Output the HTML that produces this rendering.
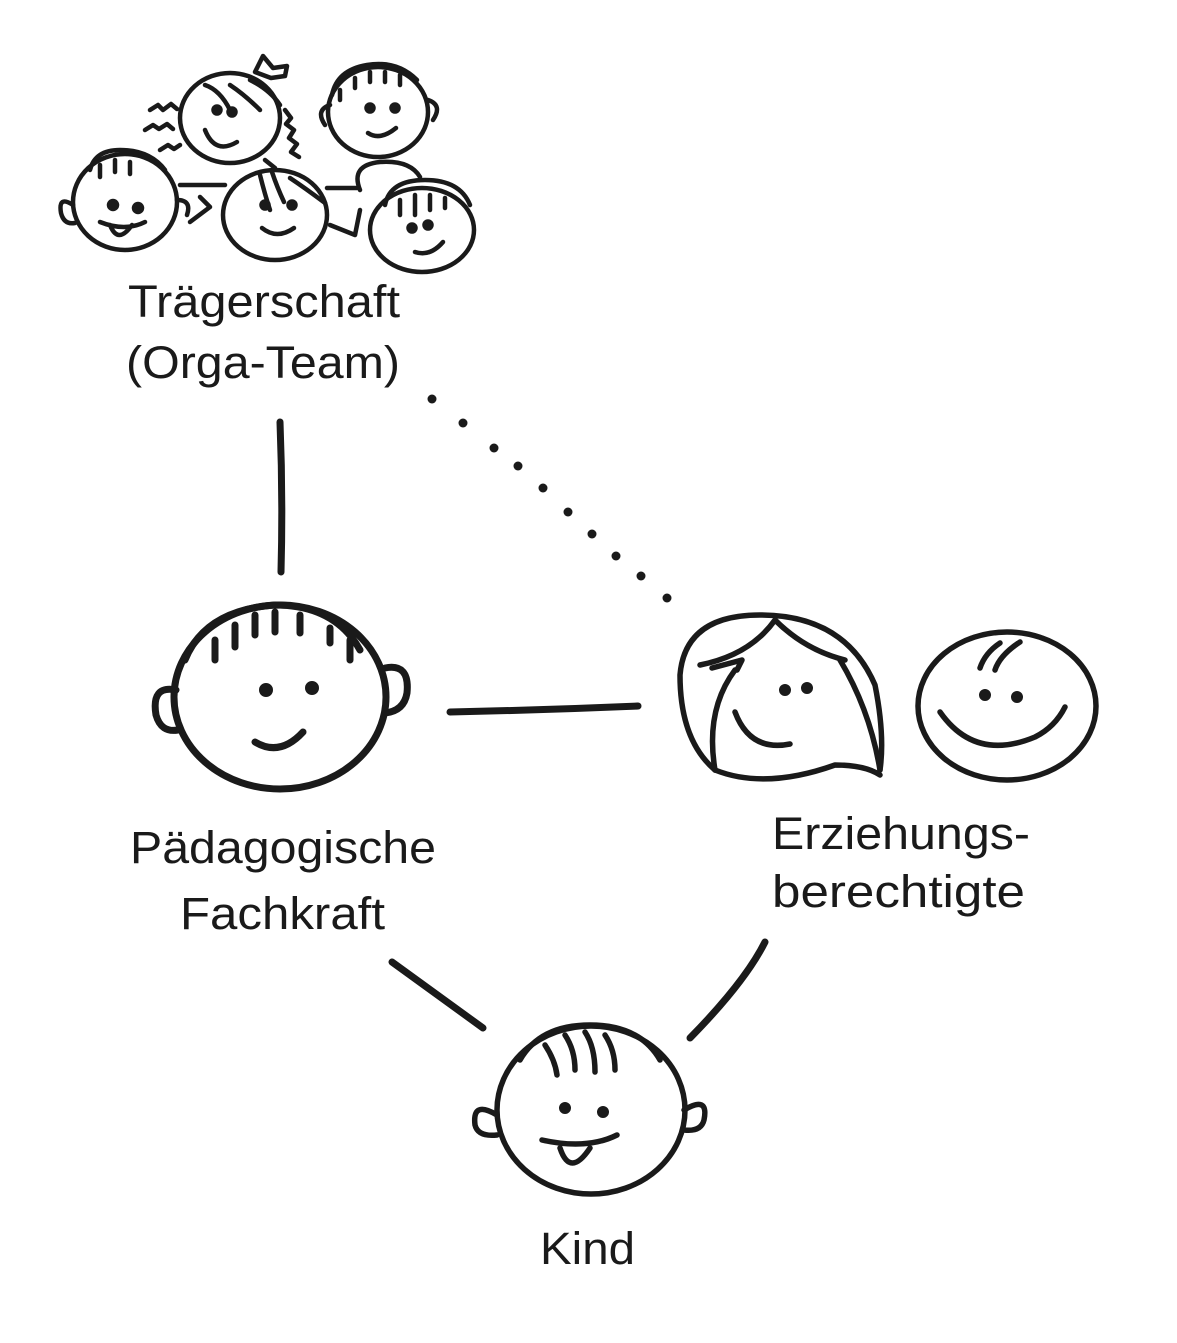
<!DOCTYPE html>
<html><head><meta charset="utf-8"><style>
html,body{margin:0;padding:0;background:#fff;}
svg{display:block}
text{font-family:"Liberation Sans",sans-serif;font-size:45px;fill:#1a1a1a}
</style></head><body>
<svg width="1177" height="1343" viewBox="0 0 1177 1343" xmlns="http://www.w3.org/2000/svg">
<g fill="none" stroke="#1a1a1a" stroke-linecap="round" stroke-linejoin="round">
<!-- top group -->
<g stroke-width="4.5">
<ellipse cx="230" cy="118" rx="50" ry="45"/>
<path d="M205 85 q15 5 25 25 M230 85 q15 10 30 25 M250 80 q20 10 30 25"/>
<path d="M150 110 l8 -5 l5 5 l8 -6 l6 5 M145 130 l8 -5 l6 4 l8 -5 l6 5 M160 150 l8 -5 l6 4 l6 -4"/>
<path d="M285 110 l6 8 l-5 6 l8 6 l-5 8 l8 6 l-6 8 l8 5 M265 160 l10 8"/>
<path d="M255 72 l8 -16 l10 12 l14 -2 l-2 10 l-14 2 z"/>
<circle cx="217" cy="110" r="3.5" fill="#1a1a1a"/><circle cx="232" cy="112" r="3.5" fill="#1a1a1a"/>
<path d="M205 130 q10 25 32 12"/>
<ellipse cx="378" cy="112" rx="50" ry="45"/>
<path d="M332 95 q5 -25 35 -30 q30 -5 50 15 M340 90 v10 M355 78 v10 M370 72 v10 M385 72 v10 M400 75 v10"/>
<path d="M330 105 q-15 5 -5 20 M428 100 q15 5 5 20"/>
<circle cx="370" cy="108" r="3.5" fill="#1a1a1a"/><circle cx="395" cy="108" r="3.5" fill="#1a1a1a"/>
<path d="M368 133 q12 8 28 -5"/>
<ellipse cx="125" cy="202" rx="52" ry="48"/>
<path d="M90 170 q5 -20 30 -20 q30 0 45 20 M100 165 v12 M115 160 v12 M130 162 v12"/>
<path d="M73 205 q-15 -10 -12 8 q3 12 14 10 M177 200 q15 0 10 15"/>
<circle cx="113" cy="205" r="4" fill="#1a1a1a"/><circle cx="138" cy="208" r="4" fill="#1a1a1a"/>
<path d="M100 222 q25 10 45 0 M110 225 q8 20 22 0"/>
<path d="M180 185 h45 M190 222 l20 -15 l-10 -10"/>
<ellipse cx="275" cy="215" rx="52" ry="45"/>
<path d="M260 175 q5 20 10 35 M272 172 q5 15 12 30 M290 178 q15 10 35 25"/>
<circle cx="265" cy="205" r="3.5" fill="#1a1a1a"/><circle cx="292" cy="205" r="3.5" fill="#1a1a1a"/>
<path d="M262 228 q15 12 32 0"/>
<path d="M327 188 h30 M330 225 l25 10 l5 -25"/>
<path d="M360 190 q-10 -25 20 -28 q30 -2 40 15"/>
<ellipse cx="422" cy="230" rx="52" ry="42"/>
<path d="M385 205 q5 -25 40 -25 q35 0 45 25 M400 200 v15 M415 195 v20 M430 195 v15 M445 198 v10"/>
<circle cx="412" cy="228" r="3.5" fill="#1a1a1a"/><circle cx="428" cy="225" r="3.5" fill="#1a1a1a"/>
<path d="M415 252 q15 5 28 -10"/>
</g>
<!-- connectors -->
<g stroke-width="7">
<path d="M280 422 q3 75 1 150"/>
<path d="M450 712 q95 -2 188 -6"/>
<path d="M392 962 L483 1028"/>
<path d="M765 942 q-20 40 -75 96"/>
</g>
<g fill="#1a1a1a" stroke="none">
<circle cx="432" cy="399" r="4.5"/><circle cx="463" cy="423" r="4.5"/><circle cx="494" cy="448" r="4.5"/><circle cx="518" cy="466" r="4.5"/><circle cx="543" cy="488" r="4.5"/><circle cx="568" cy="512" r="4.5"/><circle cx="592" cy="534" r="4.5"/><circle cx="616" cy="556" r="4.5"/><circle cx="641" cy="576" r="4.5"/><circle cx="667" cy="598" r="4.5"/>
</g>
<!-- Fachkraft face -->
<g stroke-width="7">
<ellipse cx="280" cy="697" rx="106" ry="92"/>
<path d="M185 660 q20 -50 90 -55 q60 0 85 45 M215 640 v20 M235 625 v22 M255 615 v20 M275 612 v20 M300 615 v18 M330 628 v15 M350 640 v20"/>
<path d="M176 690 q-25 -5 -20 25 q5 18 22 15 M385 668 q25 -5 22 25 q-3 18 -22 20"/>
<path d="M255 742 q25 15 48 -10"/>
</g>
<circle cx="266" cy="690" r="6.5" fill="#1a1a1a"/><circle cx="312" cy="688" r="6.5" fill="#1a1a1a"/>
<!-- mother -->
<g stroke-width="5.5">
<path d="M715 770 q-35 -30 -35 -95 q5 -60 80 -60 q85 0 115 70 q10 50 5 85"/>
<path d="M700 665 q50 -10 75 -45 q30 30 70 40"/>
<path d="M715 770 q-10 -60 20 -100 M840 660 q30 50 40 110"/>
<path d="M715 770 q50 20 120 -5 q30 0 45 10"/>
<path d="M735 712 q15 40 55 32"/>
<path d="M712 668 l30 -8 l-5 10"/>
</g>
<circle cx="785" cy="690" r="5.5" fill="#1a1a1a"/><circle cx="807" cy="688" r="5.5" fill="#1a1a1a"/>
<!-- other -->
<g stroke-width="5.5">
<ellipse cx="1007" cy="706" rx="89" ry="74"/>
<path d="M980 668 q5 -15 20 -25 M995 670 q5 -15 25 -28"/>
<path d="M940 712 q35 50 95 25 q20 -10 30 -30"/>
</g>
<circle cx="985" cy="695" r="5.5" fill="#1a1a1a"/><circle cx="1017" cy="697" r="5.5" fill="#1a1a1a"/>
<!-- Kind -->
<g stroke-width="5.5">
<ellipse cx="591" cy="1110" rx="94" ry="84"/>
<path d="M520 1060 q20 -35 70 -35 q50 0 70 35 M545 1045 q10 15 12 30 M565 1035 q10 15 10 35 M585 1032 q10 15 10 40 M605 1035 q10 15 10 35"/>
<path d="M497 1115 q-25 -15 -22 10 q3 12 22 10 M684 1110 q25 -15 20 10 q-3 12 -20 10"/>
<path d="M542 1140 q45 10 75 -5 M560 1148 q10 30 30 0"/>
</g>
<circle cx="565" cy="1108" r="5.5" fill="#1a1a1a"/><circle cx="603" cy="1112" r="5.5" fill="#1a1a1a"/>
</g>
<text x="128" y="317" textLength="272" lengthAdjust="spacingAndGlyphs">Trägerschaft</text>
<text x="126" y="378" textLength="274" lengthAdjust="spacingAndGlyphs">(Orga-Team)</text>
<text x="130" y="863" textLength="306" lengthAdjust="spacingAndGlyphs">Pädagogische</text>
<text x="180" y="929" textLength="205" lengthAdjust="spacingAndGlyphs">Fachkraft</text>
<text x="772" y="849" textLength="258" lengthAdjust="spacingAndGlyphs">Erziehungs-</text>
<text x="772" y="907" textLength="253" lengthAdjust="spacingAndGlyphs">berechtigte</text>
<text x="540" y="1264" textLength="95" lengthAdjust="spacingAndGlyphs">Kind</text>
</svg>
</body></html>
